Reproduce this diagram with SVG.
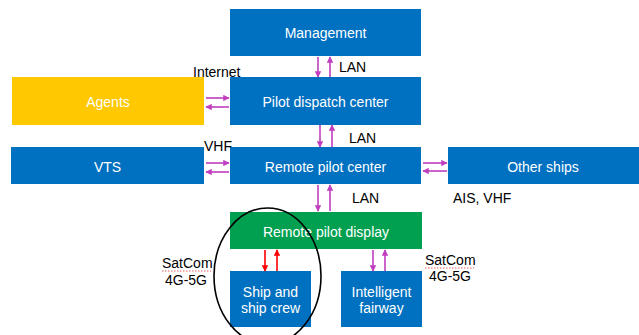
<svg xmlns="http://www.w3.org/2000/svg" width="639" height="335" viewBox="0 0 639 335">
<defs>
<style>
.blue{fill:#0070C0}
.yel{fill:#FFC800}
.grn{fill:#00A050}
.nt{font-family:"Liberation Sans",Arial,sans-serif;font-size:14px;fill:#fff;text-anchor:middle}
.lb{font-family:"Liberation Sans",Arial,sans-serif;font-size:14px;fill:#000}
.ar{stroke:#BF3FBF;stroke-width:1.6;fill:none;marker-end:url(#mh)}
.rd{stroke:#FF0000;stroke-width:1.6;fill:none;marker-end:url(#rh)}
</style>
<marker id="mh" viewBox="0 0 10 10" refX="9" refY="5" markerWidth="4" markerHeight="4" orient="auto" markerUnits="strokeWidth"><path d="M0,0 L10,5 L0,10 z" fill="#BF3FBF"/></marker>
<marker id="rh" viewBox="0 0 10 10" refX="9" refY="5" markerWidth="4" markerHeight="4" orient="auto" markerUnits="strokeWidth"><path d="M0,0 L10,5 L0,10 z" fill="#FF0000"/></marker>
</defs>
<rect width="639" height="335" fill="#fff"/>
<g id="management"><rect class="blue" x="230" y="9" width="191" height="47"/><text class="nt" x="325.5" y="38">Management</text></g>
<g id="pilot-dispatch"><rect class="blue" x="230" y="77" width="191" height="48"/><text class="nt" x="325.5" y="107">Pilot dispatch center</text></g>
<g id="agents"><rect class="yel" x="12" y="77" width="192" height="48"/><text class="nt" x="108" y="107">Agents</text></g>
<g id="remote-pilot-center"><rect class="blue" x="230" y="147" width="191" height="37"/><text class="nt" x="325.5" y="172">Remote pilot center</text></g>
<g id="vts"><rect class="blue" x="11" y="147" width="193" height="37"/><text class="nt" x="107.5" y="172">VTS</text></g>
<g id="other-ships"><rect class="blue" x="448" y="147" width="191" height="37"/><text class="nt" x="543" y="172">Other ships</text></g>
<g id="remote-pilot-display"><rect class="grn" x="230" y="212" width="192" height="37"/><text class="nt" x="326" y="237">Remote pilot display</text></g>
<g id="ship"><rect class="blue" x="230" y="271" width="81" height="56"/><text class="nt" x="270.5" y="297">Ship and</text><text class="nt" x="270.5" y="313">ship crew</text></g>
<g id="fairway"><rect class="blue" x="341" y="271" width="81" height="56"/><text class="nt" x="381.5" y="297">Intelligent</text><text class="nt" x="381.5" y="313">fairway</text></g>
<g id="connectors">
<line class="ar" x1="318" y1="57" x2="318" y2="77"/>
<line class="ar" x1="330" y1="77" x2="330" y2="57"/>
<line class="ar" x1="320" y1="125" x2="320" y2="147"/>
<line class="ar" x1="332" y1="147" x2="332" y2="125"/>
<line class="ar" x1="318" y1="185" x2="318" y2="211"/>
<line class="ar" x1="330" y1="211" x2="330" y2="185"/>
<line class="rd" x1="265" y1="250" x2="265" y2="271"/>
<line class="rd" x1="277" y1="271" x2="277" y2="250"/>
<line class="ar" x1="373" y1="250" x2="373" y2="271"/>
<line class="ar" x1="385" y1="271" x2="385" y2="250"/>
<line class="ar" x1="206" y1="98" x2="229" y2="98"/>
<line class="ar" x1="229" y1="107" x2="206" y2="107"/>
<line class="ar" x1="206" y1="163" x2="229" y2="163"/>
<line class="ar" x1="229" y1="172" x2="206" y2="172"/>
<line class="ar" x1="423" y1="163" x2="447" y2="163"/>
<line class="ar" x1="447" y1="171" x2="423" y2="171"/>
</g>
<g id="labels">
<text class="lb" x="193" y="77">Internet</text>
<text class="lb" x="339" y="72">LAN</text>
<text class="lb" x="349" y="143">LAN</text>
<text class="lb" x="204" y="151">VHF</text>
<text class="lb" x="352" y="203">LAN</text>
<text class="lb" x="453" y="203">AIS, VHF</text>
<text class="lb" x="162" y="268">SatCom</text>
<text class="lb" x="165" y="285">4G-5G</text>
<text class="lb" x="425" y="265">SatCom</text>
<text class="lb" x="429" y="281">4G-5G</text>
<path d="M162,271 h49 M425,268 h49" stroke="#E06060" stroke-width="1" stroke-dasharray="1.5,1.5" fill="none"/>
</g>
<ellipse cx="267.5" cy="276" rx="53.5" ry="68" fill="none" stroke="#000" stroke-width="1.6"/>
</svg>
